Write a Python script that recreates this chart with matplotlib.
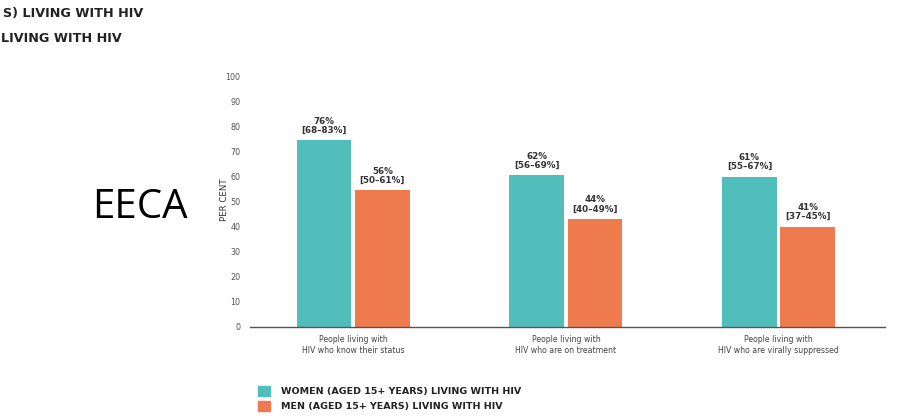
import matplotlib.pyplot as plt
import numpy as np

# данные
categories = ['People living with\nHIV who know their status',
              'People living with\nHIV who are on treatment',
              'People living with\nHIV who are virally suppressed']
women = [74.5, 60.5, 60.0]   # высота столбцов (как нарисовано)
men = [54.5, 43.0, 40.0]
women_labels = ['76%\n[68–83%]', '62%\n[56–69%]', '61%\n[55–67%]']
men_labels = ['56%\n[50–61%]', '44%\n[40–49%]', '41%\n[37–45%]']
yticks = [0, 10, 20, 30, 40, 50, 60, 70, 80, 90, 100]

teal = '#52BEBC'
orange = '#EE7A4E'
W, H = 897, 419

fig = plt.figure(figsize=(W / 100, H / 100), dpi=100)
ax = fig.add_axes([250 / W, (H - 326.7) / H, 635 / W, 250 / H])

x = np.arange(len(categories))
bw = 0.258
off = 0.137
ax.bar(x - off, women, width=bw, color=teal)
ax.bar(x + off, men, width=bw, color=orange)

# подписи значений над столбцами
for xi, v, t in zip(x, women, women_labels):
    ax.annotate(t, (xi - off, v), xytext=(0, 4), textcoords='offset points',
                ha='center', va='bottom', fontsize=6.3, fontweight='bold',
                color='#333333', linespacing=1.05)
for xi, v, t in zip(x, men, men_labels):
    ax.annotate(t, (xi + off, v), xytext=(0, 4), textcoords='offset points',
                ha='center', va='bottom', fontsize=6.3, fontweight='bold',
                color='#333333', linespacing=1.05)

ax.set_xlim(-0.485, 2.5)
ax.set_ylim(0, 100)
ax.set_yticks(yticks)
ax.set_yticklabels([str(v) for v in yticks], fontsize=5.8, color='#555555')
ax.set_xticks(x)
ax.set_xticklabels(categories, fontsize=5.6, color='#444444', linespacing=1.3)
ax.tick_params(axis='both', length=0, pad=6)
ax.tick_params(axis='y', pad=7)
for s in ['top', 'right', 'left']:
    ax.spines[s].set_visible(False)
ax.spines['bottom'].set_color('#555555')
ax.spines['bottom'].set_linewidth(1.0)

fig.text(224 / W, (H - 200) / H, 'PER CENT', rotation=90, fontsize=6.2,
         color='#333333', ha='center', va='center')

fig.text(92 / W, (H - 208) / H, 'EECA', fontsize=29, color='black',
         ha='left', va='center', family='Open Sans')

# обрезанный заголовок слева сверху (видимая часть)
fig.text(3 / W, (H - 14) / H, 'S) LIVING WITH HIV',
         fontsize=9.2, fontweight='bold', ha='left', va='center', color='#222222')
fig.text(1 / W, (H - 38) / H, 'LIVING WITH HIV',
         fontsize=9.2, fontweight='bold', ha='left', va='center', color='#222222')

# легенда
h1 = plt.Rectangle((0, 0), 1, 1, color=teal)
h2 = plt.Rectangle((0, 0), 1, 1, color=orange)
leg = fig.legend([h1, h2],
                 ['WOMEN (AGED 15+ YEARS) LIVING WITH HIV',
                  'MEN (AGED 15+ YEARS) LIVING WITH HIV'],
                 loc='upper left', bbox_to_anchor=(258 / W, (H - 386) / H),
                 frameon=False, handlelength=1.27, handleheight=1.27,
                 handletextpad=1.15, labelspacing=0.5, borderaxespad=0,
                 borderpad=0, prop={'size': 6.8, 'weight': 'bold'})
for t in leg.get_texts():
    t.set_color('#222222')

plt.savefig('out.png', dpi=100)
